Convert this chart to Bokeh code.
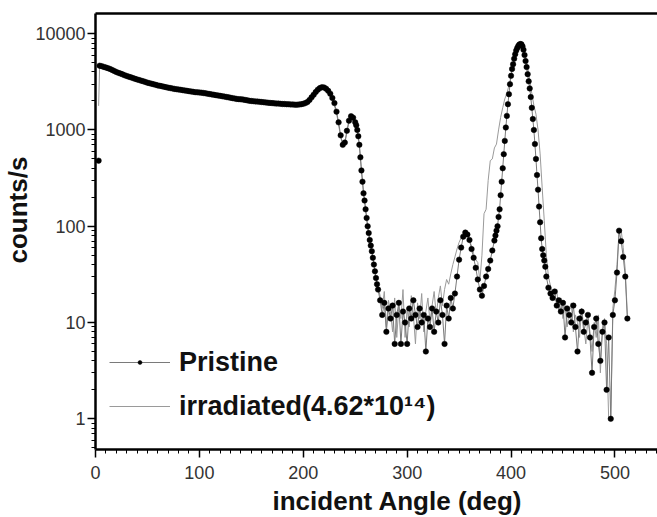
from bokeh.plotting import figure
from bokeh.models import (FixedTicker, NumeralTickFormatter, Range1d, Legend,
                          LegendItem, Title, LinearAxis)
from bokeh.embed import file_html
from bokeh.resources import INLINE

# ---- data: Pristine (angle in deg, counts/s) ----
angle_p = [
    3, 4, 6, 8, 10, 12, 14, 16, 18, 20,
    22, 24, 26, 28, 30, 32, 34, 36, 38, 40,
    42, 44, 46, 48, 50, 52, 54, 56, 58, 60,
    62, 64, 66, 68, 70, 72, 74, 76, 78, 80,
    82, 84, 86, 88, 90, 92, 94, 96, 98, 100,
    102, 104, 106, 108, 110, 112, 114, 116, 118, 120,
    122, 124, 126, 128, 130, 132, 134, 136, 138, 140,
    142, 144, 146, 148, 150, 152, 154, 156, 158, 160,
    162, 164, 166, 168, 170, 172, 174, 176, 178, 180,
    182, 184, 186, 188, 190, 192, 194, 196, 198, 200,
    202, 204, 206, 208, 210, 212, 214, 216, 218, 220,
    222, 224, 226, 228, 230, 232, 234, 236, 238, 240,
    242, 244, 246, 248, 250, 251, 252, 253, 254, 255,
    256, 257, 258, 259, 260, 261, 262, 263, 264, 265,
    266, 267, 268, 269, 270, 271, 272, 274, 276, 278,
    280, 282, 284, 286, 288, 290, 292, 294, 296, 298,
    300, 302, 304, 306, 308, 310, 312, 314, 316, 318,
    320, 322, 324, 326, 328, 330, 332, 334, 336, 338,
    340, 342, 344, 346, 348, 350, 352, 354, 356, 358,
    360, 362, 364, 366, 368, 370, 372, 374, 376, 378,
    380, 382, 384, 385, 386, 387, 388, 389, 390, 391,
    392, 393, 394, 395, 396, 397, 398, 399, 400, 401,
    402, 403, 404, 405, 406, 407, 408, 409, 410, 411,
    412, 413, 414, 415, 416, 417, 418, 419, 420, 421,
    422, 423, 424, 425, 426, 427, 428, 429, 430, 431,
    432, 433, 434, 436, 438, 440, 442, 444, 446, 448,
    450, 452, 454, 456, 458, 460, 462, 464, 466, 468,
    470, 472, 474, 476, 478, 480, 482, 484, 486, 488,
    490, 492, 494, 496, 498, 500, 502, 504, 506, 508,
    510, 512,
]
counts_p = [
    480, 4650, 4600, 4520, 4450, 4380, 4300, 4200, 4100, 4000,
    3920, 3850, 3780, 3700, 3640, 3580, 3520, 3460, 3400, 3350,
    3300, 3250, 3200, 3150, 3100, 3060, 3020, 2980, 2940, 2900,
    2870, 2840, 2810, 2780, 2750, 2720, 2700, 2670, 2650, 2630,
    2610, 2590, 2570, 2550, 2530, 2510, 2490, 2470, 2460, 2450,
    2440, 2420, 2400, 2380, 2360, 2340, 2320, 2300, 2280, 2260,
    2240, 2220, 2200, 2180, 2160, 2140, 2120, 2100, 2090, 2080,
    2070, 2050, 2030, 2010, 2000, 1990, 1980, 1970, 1960, 1950,
    1940, 1930, 1920, 1910, 1900, 1890, 1880, 1880, 1870, 1860,
    1860, 1850, 1850, 1840, 1840, 1830, 1830, 1840, 1850, 1870,
    1900, 1950, 2050, 2180, 2320, 2480, 2620, 2720, 2780, 2760,
    2680, 2550, 2380, 2150, 1900, 1550, 1200, 880, 700, 740,
    980, 1250, 1390, 1340, 1200, 1120, 1000, 860, 700, 520,
    380, 290, 220, 185, 150, 122, 100, 85, 72, 63,
    55, 47, 40, 34, 29, 25, 22, 17, 12, 16,
    8, 14, 11, 15, 6, 12, 16, 6, 13, 10,
    6, 14, 11, 17, 12, 9, 14, 10, 12, 5,
    11, 9, 14, 8, 13, 10, 17, 12, 6, 15,
    11, 18, 14, 20, 30, 45, 60, 78, 86, 82,
    72, 58, 47, 37, 28, 22, 19, 24, 30, 36,
    44, 56, 71, 80, 90, 100, 125, 150, 210, 290,
    400, 560, 770, 1060, 1400, 1850, 2350, 2990, 3650, 4300,
    4820, 5500, 6120, 6700, 7100, 7450, 7700, 7800, 7750, 7400,
    6800, 6000, 5200, 4500, 3800, 3200, 2700, 2200, 1700, 1300,
    1000, 713, 500, 340, 240, 160, 110, 75, 58, 50,
    44, 38, 30, 23, 20, 18, 21, 15, 17, 13,
    16, 7, 14, 12, 10, 15, 9, 5, 11, 13,
    8, 10, 12, 7, 3, 9, 11, 6, 4, 8,
    10, 2, 7, 1, 12, 17, 33, 90, 70, 48,
    30, 11,
]

# ---- data: irradiated (4.62*10^14) ----
angle_i = [
    3, 4, 8, 12, 16, 20, 24, 28, 32, 36,
    40, 44, 48, 52, 56, 60, 64, 68, 72, 76,
    80, 84, 88, 92, 96, 100, 104, 108, 112, 116,
    120, 124, 128, 132, 136, 140, 144, 148, 152, 156,
    160, 164, 168, 172, 176, 180, 184, 188, 192, 196,
    200, 204, 208, 212, 216, 220, 224, 228, 232, 236,
    238, 240, 244, 246, 248, 252, 254, 256, 258, 260,
    262, 264, 266, 268, 270, 272, 274, 276, 278, 280,
    282, 284, 286, 288, 290, 292, 294, 296, 298, 300,
    302, 304, 306, 308, 310, 312, 314, 316, 318, 320,
    322, 324, 326, 328, 330, 332, 334, 336, 338, 340,
    342, 344, 346, 348, 350, 352, 354, 356, 358, 360,
    362, 364, 366, 368, 370, 372, 374, 376, 378, 380,
    382, 384, 386, 388, 390, 392, 394, 396, 398, 400,
    402, 404, 406, 408, 410, 412, 414, 416, 418, 420,
    422, 424, 426, 428, 430, 432, 434, 436, 438, 440,
    442, 444, 446, 448, 450, 452, 454, 456, 458, 460,
    462, 464, 466, 468, 470, 472, 474, 476, 478, 480,
    482, 484, 486, 488, 490, 492, 494, 496, 498, 500,
    502, 504, 506, 508, 510, 512,
]
counts_i = [
    1780, 4600, 4480, 4350, 4180, 3980, 3830, 3680, 3560, 3450,
    3340, 3240, 3140, 3050, 2970, 2890, 2830, 2770, 2710, 2660,
    2620, 2580, 2540, 2500, 2460, 2440, 2410, 2370, 2330, 2290,
    2250, 2210, 2170, 2130, 2090, 2070, 2040, 2000, 1980, 1960,
    1940, 1920, 1900, 1880, 1870, 1850, 1840, 1830, 1820, 1830,
    1860, 1940, 2150, 2450, 2700, 2750, 2520, 2100, 1500, 850,
    680, 720, 1220, 1380, 1320, 950, 680, 390, 230, 150,
    100, 72, 56, 41, 29, 23, 19, 14, 21, 9,
    17, 13, 8, 18, 7, 15, 11, 22, 7, 14,
    9, 19, 12, 6, 16, 11, 20, 8, 13, 18,
    10, 15, 21, 12, 18, 24, 15, 22, 28, 25,
    32, 40, 48, 58, 68, 76, 82, 84, 80, 72,
    62, 52, 45, 42, 27, 50, 135, 150, 300, 480,
    500, 650, 713, 1000, 1350, 1700, 2100, 2400, 2900, 3600,
    4700, 5900, 6900, 7600, 7700, 7000, 5800, 4500, 3300, 2400,
    1800, 1460, 1000, 565, 250, 114, 50, 30, 24, 20,
    17, 22, 13, 18, 11, 15, 9, 13, 16, 8,
    12, 10, 7, 14, 9, 6, 11, 8, 5, 10,
    7, 12, 3, 9, 11, 6, 1, 1, 14, 22,
    40, 85, 92, 60, 35, 12,
]

x_ticks = [0, 100, 200, 300, 400, 500]
x_minor = [v for v in range(10, 541, 10) if v % 100]
y_ticks = [1, 10, 100, 1000, 10000]
y_minor = [m * d for d in (0.1, 1, 10, 100, 1000) for m in range(2, 10)] + [20000]

FONT = "Liberation Sans"

p = figure(width=657, height=517, y_axis_type="log",
           x_range=Range1d(0, 541), y_range=Range1d(0.48, 16200),
           output_backend="svg", toolbar_location=None,
           min_border_left=93, min_border_right=0,
           min_border_top=13, min_border_bottom=68)
p.background_fill_color = "white"
p.border_fill_color = "white"
p.outline_line_color = None
p.xgrid.visible = False
p.ygrid.visible = False

r_irr = p.line(angle_i, counts_i, line_color="#9a9a9a", line_width=1)
r_pline = p.line(angle_p[1:], counts_p[1:], line_color="#7a7a7a", line_width=1)
r_pts = p.scatter(angle_p, counts_p, size=5.5, fill_color="black",
                  line_color="black", line_width=0.5)

for ax, ticks, minor in ((p.xaxis[0], x_ticks, x_minor), (p.yaxis[0], y_ticks, y_minor)):
    ax.ticker = FixedTicker(ticks=ticks, minor_ticks=minor)
    ax.axis_line_width = 2.5
    ax.axis_line_color = "black"
    ax.major_tick_line_width = 1.5
    ax.major_tick_out = 8
    ax.major_tick_in = 0
    ax.minor_tick_line_width = 1
    ax.minor_tick_out = 4
    ax.minor_tick_in = 0
    ax.major_label_text_font = FONT
    ax.major_label_text_font_size = "18px"
    ax.major_label_text_color = "#333333"
p.yaxis[0].formatter = NumeralTickFormatter(format="0")
p.yaxis[0].major_label_standoff = 2
p.xaxis[0].major_label_standoff = 8

top = LinearAxis(ticker=FixedTicker(ticks=[]), major_tick_line_color=None,
                 minor_tick_line_color=None, major_label_text_font_size="0px",
                 axis_line_width=2.5, axis_line_color="black", major_label_standoff=0)
p.add_layout(top, "above")

p.add_layout(Title(text="incident Angle (deg)", align="left", offset=177,
                   text_font=FONT, text_font_size="26px", text_font_style="bold",
                   text_color="#111111", standoff=4), "below")
p.add_layout(Title(text="counts/s", align="left", offset=186,
                   text_font=FONT, text_font_size="26px", text_font_style="bold",
                   text_color="#111111", standoff=0), "left")

legend = Legend(items=[LegendItem(label="Pristine", renderers=[r_pline, r_pts]),
                       LegendItem(label="irradiated(4.62*10\u00b9\u2074)", renderers=[r_irr])],
                location=(14, 23), border_line_color=None, background_fill_alpha=0,
                label_text_font=FONT, label_text_font_style="bold",
                label_text_font_size="27px", label_text_color="#111111",
                glyph_width=61, glyph_height=10, label_height=40,
                spacing=4, padding=0, margin=0, label_standoff=9)
p.add_layout(legend)

open("out.html", "w").write(file_html(p, INLINE))
